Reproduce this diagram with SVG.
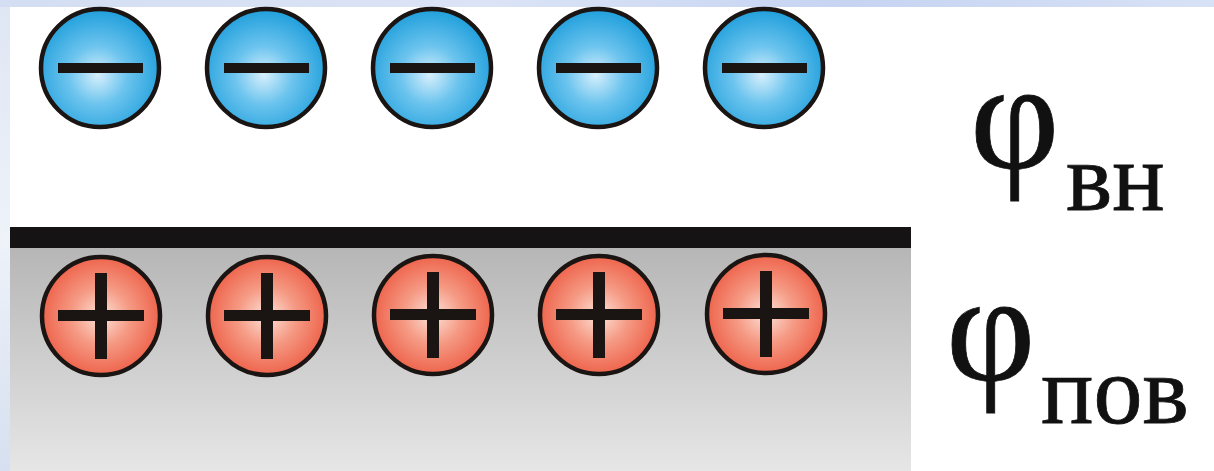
<svg xmlns="http://www.w3.org/2000/svg" width="1214" height="471" viewBox="0 0 1214 471">
<defs>
<linearGradient id="topband" x1="0" y1="0" x2="1" y2="0">
<stop offset="0" stop-color="#d4def2"/>
<stop offset="0.4" stop-color="#dbe4f6"/>
<stop offset="0.7" stop-color="#c6d4f2"/>
<stop offset="1" stop-color="#d8e2f6"/>
</linearGradient>
<linearGradient id="leftband" x1="0" y1="0" x2="0" y2="1">
<stop offset="0" stop-color="#dfe6f4"/>
<stop offset="0.5" stop-color="#eef2f9"/>
<stop offset="1" stop-color="#d6e0f0"/>
</linearGradient>
<linearGradient id="metal" x1="0" y1="0" x2="0" y2="1">
<stop offset="0" stop-color="#b6b6b6"/>
<stop offset="1" stop-color="#e6e6e6"/>
</linearGradient>
<radialGradient id="blue" cx="0.48" cy="0.56" r="0.55">
<stop offset="0" stop-color="#d6effc"/>
<stop offset="0.45" stop-color="#6cc4ee"/>
<stop offset="1" stop-color="#22a0dc"/>
</radialGradient>
<radialGradient id="red" cx="0.5" cy="0.5" r="0.55">
<stop offset="0" stop-color="#fde2d8"/>
<stop offset="0.45" stop-color="#f59a84"/>
<stop offset="1" stop-color="#ed5a42"/>
</radialGradient>
</defs>
<style>
.neg circle{fill:url(#blue);stroke:#1a1412;stroke-width:4.5}
.pos circle{fill:url(#red);stroke:#1a1412;stroke-width:4.5}
.sign{fill:#1a1412}
.lbl{font-family:"Liberation Serif","Times New Roman",serif;fill:#111;stroke:#111;stroke-width:0.8}
.phi{font-size:155px}
.sub{font-size:98px}
</style>
<rect x="0" y="0" width="1214" height="471" fill="#ffffff"/>
<rect x="0" y="0" width="1214" height="7" fill="url(#topband)"/>
<rect x="0" y="7" width="10" height="464" fill="url(#leftband)"/>
<rect x="10" y="247" width="901" height="224" fill="url(#metal)"/>
<rect x="10" y="227" width="901" height="21" fill="#151313"/>
<g id="neg1" class="neg"><circle cx="100" cy="68" r="59"/><rect class="sign" x="58" y="63" width="85" height="10"/></g>
<g id="neg2" class="neg"><circle cx="266" cy="68" r="59"/><rect class="sign" x="224" y="63" width="85" height="10"/></g>
<g id="neg3" class="neg"><circle cx="432" cy="68" r="59"/><rect class="sign" x="390" y="63" width="85" height="10"/></g>
<g id="neg4" class="neg"><circle cx="598" cy="68" r="59"/><rect class="sign" x="556" y="63" width="85" height="10"/></g>
<g id="neg5" class="neg"><circle cx="764" cy="68" r="59"/><rect class="sign" x="722" y="63" width="85" height="10"/></g>
<g id="pos1" class="pos"><circle cx="101" cy="316" r="59"/><rect class="sign" x="58" y="310" width="86" height="11"/><rect class="sign" x="95" y="273" width="12" height="86"/></g>
<g id="pos2" class="pos"><circle cx="267" cy="316" r="59"/><rect class="sign" x="224" y="310" width="86" height="11"/><rect class="sign" x="261" y="273" width="12" height="86"/></g>
<g id="pos3" class="pos"><circle cx="433" cy="315" r="59"/><rect class="sign" x="390" y="309" width="86" height="11"/><rect class="sign" x="427" y="272" width="12" height="86"/></g>
<g id="pos4" class="pos"><circle cx="599" cy="315" r="59"/><rect class="sign" x="556" y="309" width="86" height="11"/><rect class="sign" x="593" y="272" width="12" height="86"/></g>
<g id="pos5" class="pos"><circle cx="766" cy="314" r="59"/><rect class="sign" x="723" y="308" width="86" height="11"/><rect class="sign" x="760" y="271" width="12" height="86"/></g>
<g id="label-vn" class="lbl"><text x="970" y="168" class="phi">φ</text><text x="1066" y="210" class="sub">вн</text></g>
<g id="label-pov" class="lbl"><text x="946" y="380" class="phi">φ</text><text x="1041" y="423" class="sub">пов</text></g>
<g id="connectors"/>
</svg>
